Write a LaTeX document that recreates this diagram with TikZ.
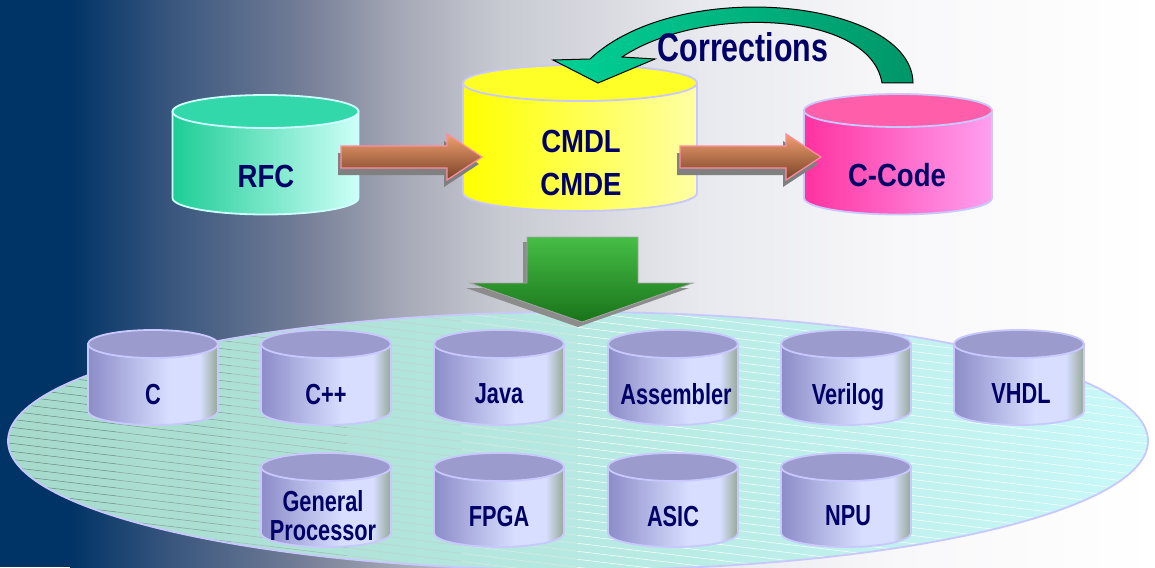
\documentclass[tikz,border=0pt]{standalone}
\usepackage{fontspec}
\setmainfont{Liberation Sans}
\newfontfamily\bigfont{Liberation Sans}[FakeStretch=0.86]
\newfontfamily\narrowfont{Liberation Sans}[FakeStretch=0.75]
\newfontfamily\corrfont{Liberation Sans}[FakeStretch=0.76]
\definecolor{navy}{RGB}{0,51,102}
\definecolor{bgA}{RGB}{55,85,125}
\definecolor{bgB}{RGB}{115,125,150}
\definecolor{bgC}{RGB}{165,168,182}
\definecolor{bgD}{RGB}{200,202,210}
\definecolor{bgE}{RGB}{232,233,238}
\definecolor{bgF}{RGB}{248,248,250}
\definecolor{txt}{RGB}{0,0,102}
\definecolor{lav}{RGB}{200,200,255}
\definecolor{cyanline}{RGB}{205,255,255}
\definecolor{rfcTop}{RGB}{50,215,170}
\definecolor{rfcL}{RGB}{30,205,150}
\definecolor{rfcR}{RGB}{205,255,248}
\definecolor{ylTop}{RGB}{255,255,40}
\definecolor{ylL}{RGB}{255,255,0}
\definecolor{ylR}{RGB}{255,255,165}
\definecolor{pkTop}{RGB}{255,95,170}
\definecolor{pkL}{RGB}{255,50,160}
\definecolor{pkR}{RGB}{255,160,240}
\definecolor{scTop}{RGB}{155,155,205}
\definecolor{scA}{RGB}{140,140,200}
\definecolor{scB}{RGB}{215,222,255}
\definecolor{scC}{RGB}{150,168,150}
\definecolor{arrT}{RGB}{240,160,110}
\definecolor{arrB}{RGB}{120,65,40}
\definecolor{arrLine}{RGB}{255,140,160}
\definecolor{grT}{RGB}{70,190,70}
\definecolor{grB}{RGB}{25,115,25}
\definecolor{crL}{RGB}{0,210,150}
\definecolor{crR}{RGB}{0,150,105}
\definecolor{ellL}{RGB}{165,218,203}
\definecolor{ellM}{RGB}{190,240,235}
\definecolor{ellR}{RGB}{200,248,248}
\definecolor{hatchdark}{RGB}{105,135,130}
\pgfdeclarehorizontalshading{smallcyl}{100bp}{color(0bp)=(scA); color(25bp)=(scA); color(56bp)=(scB); color(68bp)=(scB); color(75bp)=(scC); color(100bp)=(scC)}
\tikzset{
  bigtxt/.style={inner sep=0pt, text=txt, font=\bigfont\bfseries\fontsize{32}{34}\selectfont, text depth=0pt},
  smalltxt/.style={inner sep=0pt, text=txt, font=\narrowfont\bfseries\fontsize{29}{29}\selectfont, text depth=0pt, align=center},
  arrfill/.style={top color=arrT, bottom color=arrB, draw=arrLine, line width=1.2pt},
  arrshadow/.style={fill=black!50},
}
% cx, ytop, ybot, rx, ry, topcolor, body options, linecolor
\newcommand\drawcyl[8]{%
  \path[#7, draw=#8, line width=1.8pt] (#1-#4,-#2) -- (#1-#4,-#3) arc[start angle=180,end angle=360,x radius=#4,y radius=#5] -- (#1+#4,-#2) -- cycle;
  \path[fill=#6, draw=#8, line width=1.8pt] (#1,-#2) ellipse[x radius=#4, y radius=#5];
}
\newcommand\smallcyl[3]{% cx, ytop, ybot
  \drawcyl{#1}{#2}{#3}{65}{14}{scTop}{shade,shading=smallcyl}{lav}}
\newcommand\rarrow[3]{%
  \fill[arrshadow] (#1-3,-153) -- (#2-3,-153) -- (#2-3,-141) -- (#3-3,-164) -- (#2-3,-187) -- (#2-3,-175) -- (#1-3,-175) -- cycle;
  \path[arrfill] (#1,-146) -- (#2,-146) -- (#2,-134) -- (#3,-157) -- (#2,-180) -- (#2,-168) -- (#1,-168) -- cycle;
}
\begin{document}
\begin{tikzpicture}[x=1pt,y=1pt]
\useasboundingbox (0,0) rectangle (1155,-567);
% background
\fill[navy] (0,0) rectangle (70.5,-567);
\shade[left color=navy,right color=bgA] (70,0) rectangle (167.5,-567);
\shade[left color=bgA,right color=bgB] (167,0) rectangle (300.5,-567);
\shade[left color=bgB,right color=bgC] (300,0) rectangle (400.5,-567);
\shade[left color=bgC,right color=bgD] (400,0) rectangle (500.5,-567);
\shade[left color=bgD,right color=bgE] (500,0) rectangle (700.5,-567);
\shade[left color=bgE,right color=bgF] (700,0) rectangle (900.5,-567);
\shade[left color=bgF,right color=white] (900,0) rectangle (1155,-567);
% big ellipse
\shade[left color=ellL, middle color=ellM, right color=ellR] (578,-441) ellipse[x radius=570,y radius=129];
\begin{scope}
\clip (578,-441) ellipse[x radius=570,y radius=129];
\foreach \k in {0,...,52} {
  \pgfmathsetmacro\yy{-(170+8*\k)}
  \foreach \s in {0,...,9} {
    \pgfmathtruncatemacro\p{max(0,100-20*\s)}
    \draw[hatchdark!\p!white, line width=0.5pt] (115.5*\s, \yy-0.12*115.5*\s) -- (115.5*\s+116, \yy-0.12*115.5*\s-0.12*116);
  }
}
\end{scope}
\draw[lav, line width=1.8pt] (578,-441) ellipse[x radius=570,y radius=129];
% small cylinders
\smallcyl{153}{344}{411}
\smallcyl{326}{344}{411}
\smallcyl{499}{344}{411}
\smallcyl{673}{344}{411}
\smallcyl{846}{344}{411}
\smallcyl{1019}{344}{411}
\smallcyl{326}{467}{533}
\smallcyl{499}{467}{533}
\smallcyl{673}{467}{533}
\smallcyl{846}{467}{533}
\node[smalltxt] (c) at (153,-394) {C};
\node[smalltxt] (cpp) at (326,-394) {C++};
\node[smalltxt] (java) at (499,-394) {Java};
\node[smalltxt] (asm) at (676,-394) {Assembler};
\node[smalltxt] (verilog) at (848,-394) {Verilog};
\node[smalltxt] (vhdl) at (1021,-394) {VHDL};
\node[smalltxt] (gp) at (323,-515) {General\\Processor};
\node[smalltxt] (fpga) at (499,-516) {FPGA};
\node[smalltxt] (asic) at (673,-516) {ASIC};
\node[smalltxt] (npu) at (848,-516) {NPU};
% green down arrow
\fill[black!45] (523,-242) -- (634,-242) -- (634,-288) -- (689,-288) -- (578,-327) -- (466,-288) -- (523,-288) -- cycle;
\path[top color=grT, bottom color=grB, draw=black!35, line width=0.8pt] (527,-237) -- (638,-237) -- (638,-283) -- (693,-283) -- (582,-322) -- (470,-283) -- (527,-283) -- cycle;
% big cylinders
\drawcyl{265.5}{111.5}{198}{93}{16.5}{rfcTop}{left color=rfcL,right color=rfcR}{cyanline}
\drawcyl{580}{83}{193}{117}{18}{ylTop}{left color=ylL,right color=ylR}{lav}
\drawcyl{898}{110.5}{198}{94}{16.5}{pkTop}{left color=pkL,right color=pkR}{lav}
\node[bigtxt] (rfc) at (266,-176) {RFC};
\node[bigtxt] (cmdl) at (581,-141) {CMDL};
\node[bigtxt] (cmde) at (581,-184) {CMDE};
\node[bigtxt] (ccode) at (897,-175) {C-Code};
% block arrows
\rarrow{341}{447}{482}
\rarrow{680}{786}{821}
% corrections arrow
\path[left color=crL, right color=crR, draw=black, line width=1pt]
  (913,-83) .. controls (912,0) and (680,25) .. (590,-59) -- (553,-60) -- (598,-83) -- (655,-59) -- (622,-57)
  .. controls (700,-5) and (870,-10) .. (882,-83) -- cycle;
\node[inner sep=0pt, text=txt, font=\corrfont\bfseries\fontsize{40}{42}\selectfont, text depth=0pt] (corr) at (743,-47) {Corrections};
\end{tikzpicture}
\end{document}
